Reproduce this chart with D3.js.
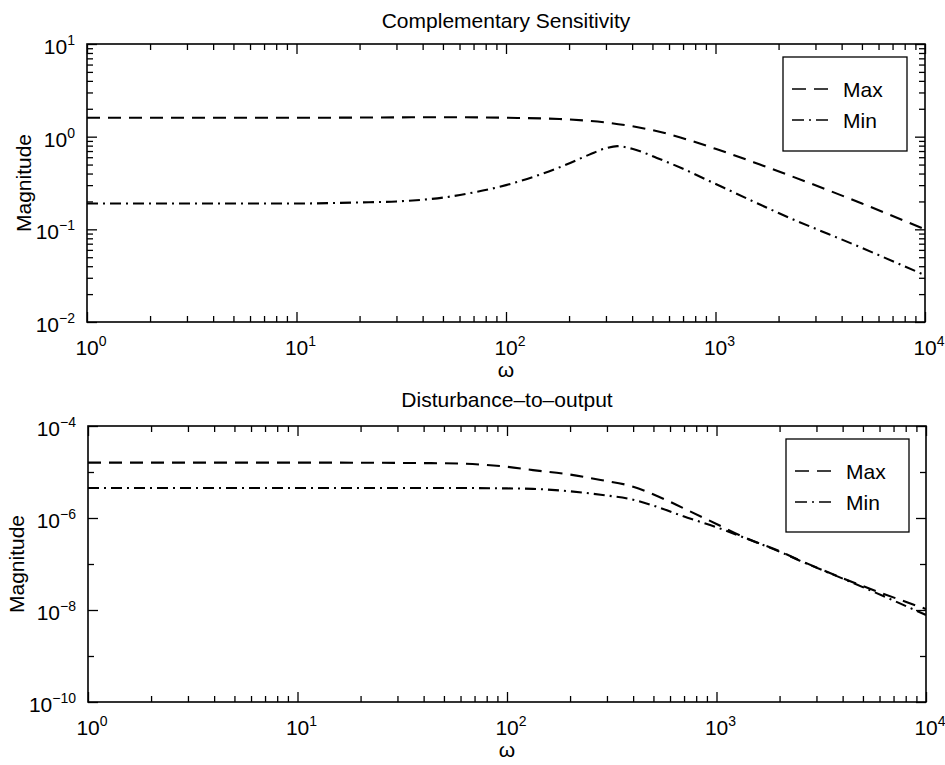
<!DOCTYPE html>
<html>
<head>
<meta charset="utf-8">
<script src="https://cdn.jsdelivr.net/npm/d3@7"></script>
<style>
body { margin: 0; background: #fff; }
svg { display: block; font-family: "Liberation Sans", Arial, sans-serif; }
</style>
</head>
<body>
<svg id="chart" width="945" height="765"></svg>
<script>
// values (omega in rad/s)
var wCompMax = [1, 10, 50, 100, 180, 310, 540, 1000, 1630, 5000, 10000];
var compMax  = [1.6, 1.6, 1.62, 1.6, 1.55, 1.41, 1.13, 0.74, 0.5, 0.19, 0.1];

var wCompMin = [1, 10, 20, 30, 50, 70, 100, 150, 190, 250, 300, 340, 400, 525, 700, 940, 1590, 2000, 5000, 10000];
var compMin  = [0.19, 0.19, 0.195, 0.2, 0.22, 0.25, 0.3, 0.4, 0.49, 0.64, 0.75, 0.79, 0.74, 0.59, 0.45, 0.33, 0.19, 0.15, 0.063, 0.032];

var wDistMax = [1, 10, 50, 100, 133, 200, 280, 400, 540, 690, 1000, 1340, 2000, 2500, 4200, 10000];
var distMax  = [1.6e-5, 1.6e-5, 1.55e-5, 1.3e-5, 1.1e-5, 8.8e-6, 6.7e-6, 4.8e-6, 2.8e-6, 1.66e-6, 7.4e-7, 3.9e-7, 1.9e-7, 1.2e-7, 4.5e-8, 1.05e-8];

var wDistMin = [1, 10, 50, 100, 133, 200, 280, 400, 540, 690, 1000, 1340, 2000, 2500, 4200, 10000];
var distMin  = [4.5e-6, 4.5e-6, 4.5e-6, 4.4e-6, 4.3e-6, 3.8e-6, 3.2e-6, 2.5e-6, 1.65e-6, 1.1e-6, 6.3e-7, 3.8e-7, 1.85e-7, 1.18e-7, 4.4e-8, 7.8e-9];

// tick exponents
var xTickExps    = [0, 1, 2, 3, 4];
var compTickExps = [-2, -1, 0, 1];
var distTickExps = [-10, -8, -6, -4];
var distMinorExps = [-9, -7, -5];

var seriesNames = ["Max", "Min"];

var dashMax = "13,8";
var dashMin = "11,5,2,5";

var svg = d3.select("#chart");
svg.append("rect").attr("width", 945).attr("height", 765).attr("fill", "#fff");

function pow10(e) { return Math.pow(10, e); }

function expLabel(sel, e) {
    // "10" with a raised exponent
    sel.append("tspan").text("10");
    sel.append("tspan")
        .attr("dy", -9)
        .attr("font-size", 14)
        .text(e < 0 ? "\u2212" + (-e) : "" + e);
}

function drawPanel(opts) {
    var x = d3.scaleLog().domain([1, 1e4]).range([opts.left, opts.right]);
    var y = d3.scaleLog().domain(opts.yDomain).range([opts.bottom, opts.top]);
    var w = opts.right - opts.left, h = opts.bottom - opts.top;

    var g = svg.append("g");

    // minor x ticks 2..9 of each decade
    var xMinor = [];
    for (var d = 0; d < 4; d++) {
        for (var k = 2; k < 10; k++) xMinor.push(k * pow10(d));
    }
    var xMajor = xTickExps.map(pow10);

    // x ticks, bottom and top, pointing inward
    g.append("g").attr("transform", "translate(0," + opts.bottom + ")")
        .call(d3.axisBottom(x).tickValues(xMinor).tickSize(-6).tickFormat(""));
    g.append("g").attr("transform", "translate(0," + opts.bottom + ")")
        .call(d3.axisBottom(x).tickValues(xMajor).tickSize(-10).tickFormat(""));
    g.append("g").attr("transform", "translate(0," + opts.top + ")")
        .call(d3.axisTop(x).tickValues(xMinor).tickSize(-6).tickFormat(""));
    g.append("g").attr("transform", "translate(0," + opts.top + ")")
        .call(d3.axisTop(x).tickValues(xMajor).tickSize(-10).tickFormat(""));

    // y ticks, left and right
    var yMajor = opts.yExps.map(pow10);
    var yMinor = opts.yMinor;
    g.append("g").attr("transform", "translate(" + opts.left + ",0)")
        .call(d3.axisLeft(y).tickValues(yMinor).tickSize(-6).tickFormat(""));
    g.append("g").attr("transform", "translate(" + opts.left + ",0)")
        .call(d3.axisLeft(y).tickValues(yMajor).tickSize(-10).tickFormat(""));
    g.append("g").attr("transform", "translate(" + opts.right + ",0)")
        .call(d3.axisRight(y).tickValues(yMinor).tickSize(-6).tickFormat(""));
    g.append("g").attr("transform", "translate(" + opts.right + ",0)")
        .call(d3.axisRight(y).tickValues(yMajor).tickSize(-10).tickFormat(""));

    g.selectAll(".domain").remove();
    g.selectAll(".tick line").attr("stroke", "#000").attr("stroke-width", 1.3);

    // box
    g.append("rect")
        .attr("x", opts.left).attr("y", opts.top)
        .attr("width", w).attr("height", h)
        .attr("fill", "none").attr("stroke", "#000").attr("stroke-width", 1.6);

    // x tick labels
    xTickExps.forEach(function(e) {
        var t = g.append("text")
            .attr("x", x(pow10(e)) + 4).attr("y", opts.bottom + 33)
            .attr("text-anchor", "middle").attr("font-size", 21);
        expLabel(t, e);
    });

    // y tick labels
    opts.yExps.forEach(function(e) {
        var t = g.append("text")
            .attr("x", opts.left - 12).attr("y", y(pow10(e)) + 10)
            .attr("text-anchor", "end").attr("font-size", 21);
        expLabel(t, e);
    });

    // axis labels and title
    g.append("text")
        .attr("x", (opts.left + opts.right) / 2).attr("y", opts.bottom + 55)
        .attr("text-anchor", "middle").attr("font-size", 21).text("\u03c9");
    g.append("text")
        .attr("transform", "translate(" + opts.yLabelX + "," + (opts.top + opts.bottom) / 2 + ") rotate(-90)")
        .attr("text-anchor", "middle").attr("font-size", 21).text("Magnitude");
    g.append("text")
        .attr("x", (opts.left + opts.right) / 2).attr("y", opts.titleY)
        .attr("text-anchor", "middle").attr("font-size", 21).text(opts.title);

    // curves
    var clipId = "clip" + opts.top;
    svg.append("clipPath").attr("id", clipId).append("rect")
        .attr("x", opts.left).attr("y", opts.top).attr("width", w).attr("height", h);

    var line = d3.line()
        .x(function(d) { return x(d[0]); })
        .y(function(d) { return y(d[1]); })
        .curve(d3.curveMonotoneX);

    opts.series.forEach(function(s) {
        var pts = s.w.map(function(v, i) { return [v, s.v[i]]; });
        g.append("path")
            .datum(pts)
            .attr("clip-path", "url(#" + clipId + ")")
            .attr("d", line)
            .attr("fill", "none").attr("stroke", "#000")
            .attr("stroke-width", 2.1)
            .attr("stroke-dasharray", s.dash);
    });

    // legend
    var lg = opts.legend;
    g.append("rect")
        .attr("x", lg.x).attr("y", lg.y).attr("width", lg.w).attr("height", lg.h)
        .attr("fill", "#fff").attr("stroke", "#000").attr("stroke-width", 1.3);
    opts.series.forEach(function(s, i) {
        var ry = lg.y + 32 + i * 31;
        g.append("line")
            .attr("x1", lg.x + 9).attr("x2", lg.x + 45)
            .attr("y1", ry).attr("y2", ry)
            .attr("stroke", "#000").attr("stroke-width", 1.6)
            .attr("stroke-dasharray", i == 0 ? "14,8" : "12,5,2,5");
        g.append("text")
            .attr("x", lg.x + 60).attr("y", ry + 8)
            .attr("font-size", 21).text(seriesNames[i]);
    });
}

// minor y ticks for the top panel: 2..9 in each decade
var compMinor = [];
for (var d = -2; d < 1; d++) {
    for (var k = 2; k < 10; k++) compMinor.push(k * pow10(d));
}

drawPanel({
    left: 87, right: 925, top: 44, bottom: 322,
    yDomain: [1e-2, 1e1], yExps: compTickExps, yMinor: compMinor,
    yLabelX: 31, titleY: 28, title: "Complementary Sensitivity",
    series: [
        {w: wCompMax, v: compMax, dash: dashMax},
        {w: wCompMin, v: compMin, dash: dashMin}
    ],
    legend: {x: 783, y: 57, w: 124, h: 94}
});

drawPanel({
    left: 88, right: 926, top: 426, bottom: 702,
    yDomain: [1e-10, 1e-4], yExps: distTickExps, yMinor: distMinorExps.map(pow10),
    yLabelX: 24, titleY: 407, title: "Disturbance\u2013to\u2013output",
    series: [
        {w: wDistMax, v: distMax, dash: dashMax},
        {w: wDistMin, v: distMin, dash: dashMin}
    ],
    legend: {x: 786, y: 439, w: 123, h: 93}
});
</script>
</body>
</html>
